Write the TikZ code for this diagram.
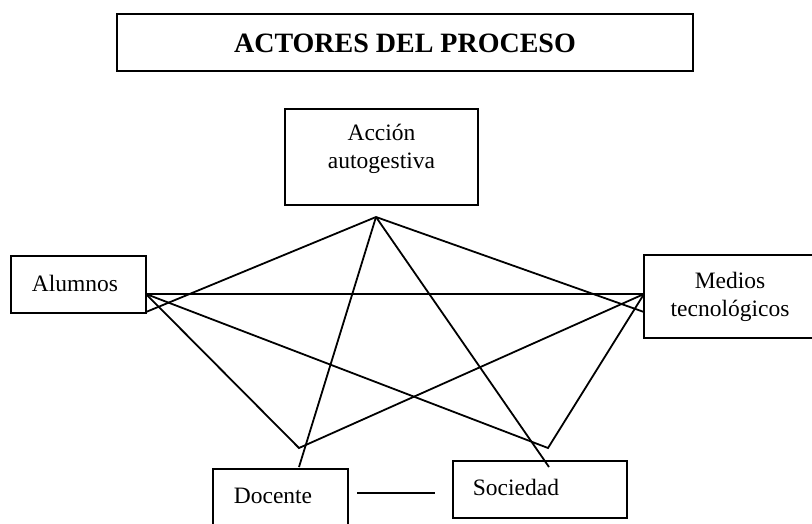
\documentclass[tikz,border=0pt]{standalone}
\usepackage{fontspec}
\setmainfont{Liberation Serif}
\begin{document}
\begin{tikzpicture}[x=1pt,y=-1pt,
  frame/.style={draw=black,line width=2pt,fill=none},
  lbl/.style={inner sep=0pt,align=center,font=\fontsize{23.5}{27.5}\selectfont},
  link/.style={draw=black,line width=1.8pt}]
\useasboundingbox (0,0) rectangle (812,523);
\clip (0,0) rectangle (812,523);
% boxes
\draw[frame] (117,14) rectangle (693,71);
\node[inner sep=0pt,font=\fontsize{28}{32}\bfseries\selectfont] (title) at (405,43) {ACTORES DEL PROCESO};
\draw[frame] (285,109) rectangle (478,205);
\node[lbl] (acc) at (381.5,149) {Acción\\autogestiva};
\draw[frame] (11,256) rectangle (146,313);
\node[lbl] (alu) at (75,283) {Alumnos};
\draw[frame] (644,255) rectangle (830,338);
\node[lbl] (med) at (730,297) {Medios\\tecnológicos};
\draw[frame] (213,469) rectangle (348,540);
\node[lbl] (doc) at (273,496) {Docente};
\draw[frame] (453,461) rectangle (627,518);
\node[lbl] (soc) at (516,487) {Sociedad};
% connection points
\coordinate (apex) at (376,217);
\coordinate (aluR) at (146,294);
\coordinate (aluC) at (146,312);
\coordinate (medL) at (644,294);
\coordinate (medC) at (644,312);
\coordinate (vL) at (299,448);
\coordinate (vR) at (548,448);
\coordinate (docT) at (299,467);
\coordinate (socT) at (549,467);
\coordinate (dsA) at (357,493);
\coordinate (dsB) at (435,493);
% connectors
\draw[link] (apex) -- (aluC);
\draw[link] (apex) -- (medC);
\draw[link] (apex) -- (docT);
\draw[link] (apex) -- (socT);
\draw[link] (aluR) -- (medL);
\draw[link] (aluR) -- (vL) -- (medL);
\draw[link] (aluR) -- (vR) -- (medL);
\draw[link] (dsA) -- (dsB);
\end{tikzpicture}
\end{document}
